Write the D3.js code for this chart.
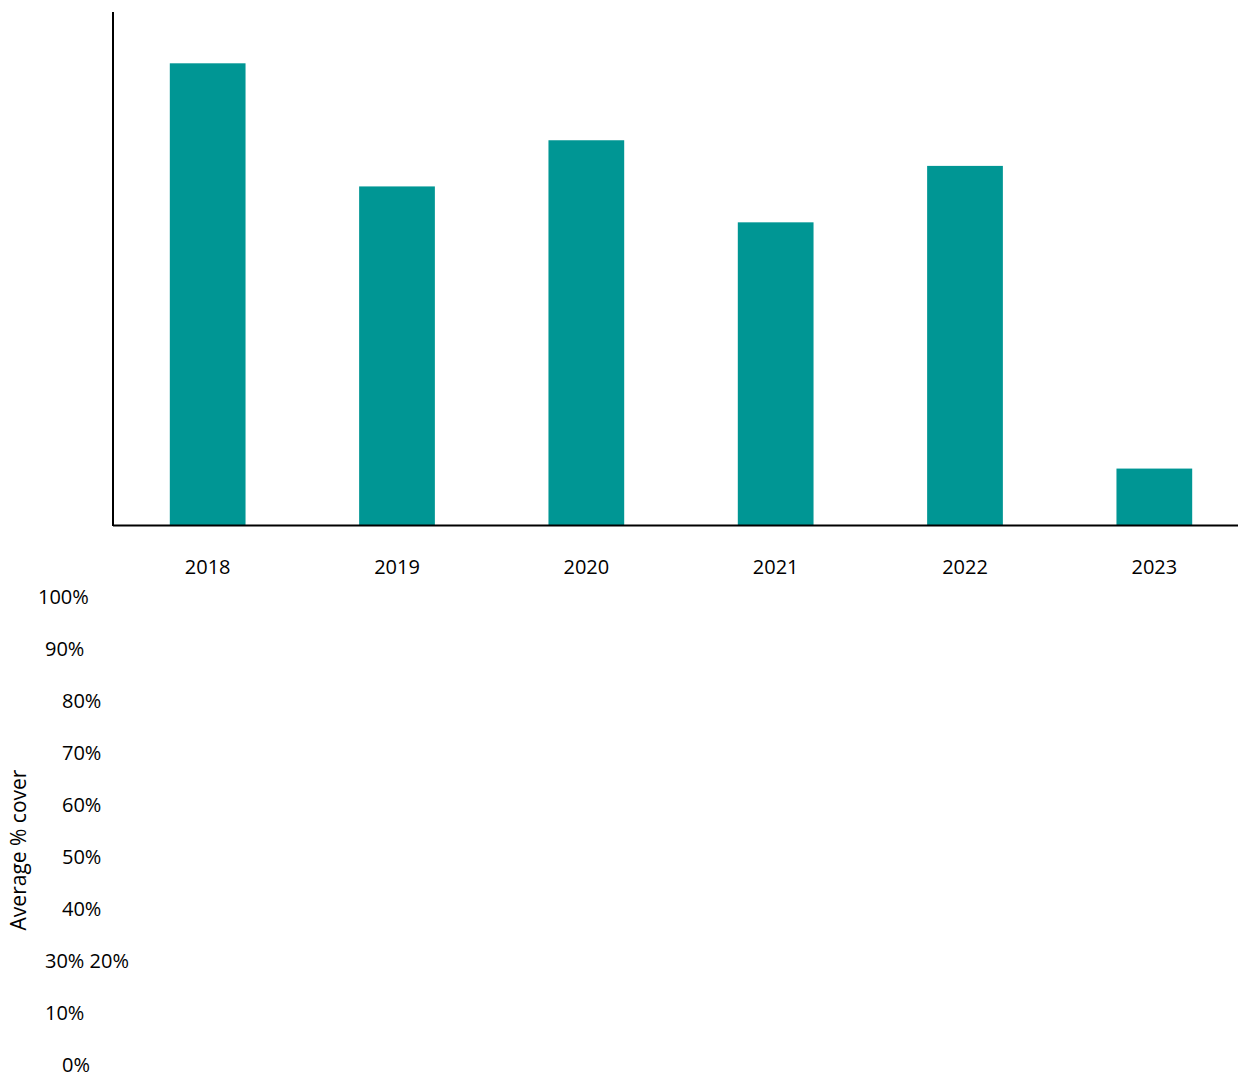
<!DOCTYPE html>
<html><head><meta charset="utf-8">
<script src="https://cdn.jsdelivr.net/npm/d3@7"></script>
<style>body{margin:0;background:#fff}text{font-family:"Open Sans",sans-serif}</style>
</head><body><svg width="1238" height="1075"></svg>
<script>
const years = ["2018", "2019", "2020", "2021", "2022", "2023"];
const cover = [0.90, 0.66, 0.75, 0.59, 0.70, 0.11];
const tickLabels = ["100%", "90%", "80%", "70%", "60%", "50%", "40%", "30% 20%", "10%", "0%"];
// left edge of each stray tick label, as laid out in the picture
const tickX = [38, 45, 62, 62, 62, 62, 62, 45, 45, 62];

const svg = d3.select("svg");

const x = d3.scaleBand().domain(years).range([113, 1249]).paddingInner(0.6).paddingOuter(0.3);
const y = d3.scaleLinear().domain([0, 1]).range([525, 12]);

svg.selectAll("rect.bar")
  .data(cover)
  .enter()
  .append("rect")
  .attr("x", (d, i) => x(years[i]))
  .attr("y", d => y(d))
  .attr("width", x.bandwidth())
  .attr("height", d => y(0) - y(d))
  .style("fill", "#009694");

// axes lines
svg.append("line").attr("x1", 113).attr("x2", 1238).attr("y1", 525.5).attr("y2", 525.5).attr("stroke", "#000").attr("stroke-width", 2);
svg.append("line").attr("x1", 113).attr("x2", 113).attr("y1", 12).attr("y2", 526).attr("stroke", "#000").attr("stroke-width", 2);

svg.selectAll("text.year")
  .data(years)
  .enter()
  .append("text")
  .attr("x", d => x(d) + x.bandwidth() / 2)
  .attr("y", 574)
  .attr("text-anchor", "middle")
  .style("font-size", "20px")
  .text(d => d);

svg.selectAll("text.tick")
  .data(tickLabels)
  .enter()
  .append("text")
  .attr("x", (d, i) => tickX[i])
  .attr("y", (d, i) => 604 + i * 52)
  .style("font-size", "20px")
  .text(d => d);

svg.append("text")
  .attr("transform", "translate(26,850) rotate(-90)")
  .attr("text-anchor", "middle")
  .style("font-size", "21px")
  .text("Average % cover");
</script></body></html>
